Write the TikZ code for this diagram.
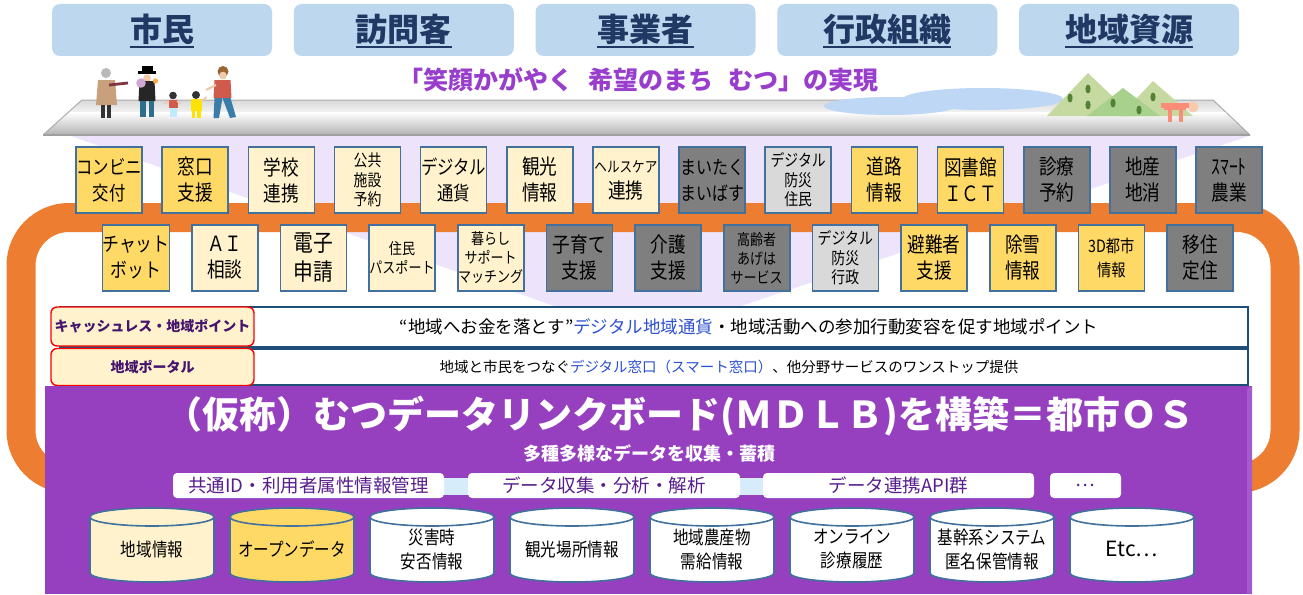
\documentclass[tikz,border=0pt]{standalone}
\usepackage{fontspec}
\setmainfont{Noto Sans CJK JP}
\newfontfamily\jpn[FakeStretch=0.84]{Noto Sans CJK JP}
\newfontfamily\jpw{Noto Sans CJK JP}

\definecolor{hdrfill}{RGB}{189,215,238}
\definecolor{hdrtext}{RGB}{32,56,100}
\definecolor{slogan}{RGB}{153,62,204}
\definecolor{lav}{RGB}{237,228,252}
\definecolor{orng}{RGB}{237,125,49}
\definecolor{boxline}{RGB}{65,113,156}
\definecolor{yelw}{RGB}{255,217,102}
\definecolor{crem}{RGB}{255,242,204}
\definecolor{dgry}{RGB}{127,127,127}
\definecolor{lgry}{RGB}{217,217,217}
\definecolor{barline}{RGB}{31,78,121}
\definecolor{lblred}{RGB}{255,0,0}
\definecolor{lbltext}{RGB}{68,20,110}
\definecolor{linkblue}{RGB}{45,80,210}
\definecolor{mdlb}{RGB}{150,64,192}
\definecolor{mdlbedge}{RGB}{165,90,205}
\definecolor{layertext}{RGB}{88,30,140}
\definecolor{glow}{RGB}{214,236,250}
\definecolor{water}{RGB}{189,215,245}
\definecolor{mtlight}{RGB}{197,217,160}
\definecolor{mtmid}{RGB}{169,209,142}
\definecolor{mtspot}{RGB}{84,130,53}
\definecolor{torii}{RGB}{250,140,120}
\definecolor{sun}{RGB}{248,203,173}
\definecolor{skin}{RGB}{240,200,170}
\definecolor{coat}{RGB}{200,160,124}
\definecolor{burg}{RGB}{128,52,70}
\definecolor{teal}{RGB}{46,110,138}
\definecolor{shirt}{RGB}{208,90,76}
\definecolor{jeans}{RGB}{58,125,168}

\tikzset{
  hdrbox/.style={fill=hdrfill, rounded corners=8pt, minimum width=220pt, minimum height=52pt, inner sep=0pt},
  hdrtxt/.style={text=hdrtext, inner sep=0pt, font=\jpw\bfseries\fontsize{32}{36}\selectfont},
  hdrul/.style={draw=hdrtext, line width=2.2pt},
  svc/.style={draw=boxline, line width=1.6pt, minimum width=66pt, minimum height=66pt, inner sep=0pt,
    align=center, text=black, font=\jpn\fontsize{21}{26}\selectfont},
  fY/.style={svc, fill=yelw},
  fC/.style={svc, fill=crem},
  fG/.style={svc, fill=dgry},
  fL/.style={svc, fill=lgry},
  small/.style={font=\jpn\fontsize{16.5}{19.5}\selectfont},
  tiny/.style={font=\jpn\fontsize{15.5}{19}\selectfont},
  bar/.style={draw=barline, line width=1.6pt, fill=white, inner sep=0pt},
  lbl/.style={draw=lblred, line width=1.4pt, fill=crem, rounded corners=6pt, minimum width=203pt,
    inner sep=0pt, text=lbltext, font=\jpw\bfseries\fontsize{14}{16}\selectfont},
  layer/.style={fill=white, rounded corners=4pt, minimum height=25pt, inner sep=0pt,
    text=layertext, font=\jpw\fontsize{18.5}{20}\selectfont},
  cylline/.style={draw=boxline, line width=1.6pt},
  cyltxt/.style={align=center, inner sep=0pt, font=\jpn\fontsize{18.5}{24}\selectfont},
}

% database drum: #1 centre x, #2 fill colour
\newcommand{\drum}[2]{%
  \fill[#2] (#1-62,517) rectangle (#1+62,573);
  \draw[cylline, fill=#2] (#1,573) ellipse [x radius=62pt, y radius=9pt];
  \fill[#2] (#1-61,517) rectangle (#1+61,573);
  \draw[cylline] (#1-62,517) -- (#1-62,573) (#1+62,517) -- (#1+62,573);
  \draw[cylline, fill=#2] (#1,517) ellipse [x radius=62pt, y radius=9pt];
}

\begin{document}
\begin{tikzpicture}[x=1pt, y=-1pt]
\useasboundingbox (0,0) rectangle (1303,594);
\fill[white] (0,0) rectangle (1303,594);

% light cone under the platform
\fill[lav] (68,135) -- (1252,135) -- (735,308) -- (560,308) -- cycle;

% orange loop
\draw[orng, line width=29pt, rounded corners=48pt] (21,217.5) rectangle (1285,478.5);

% stakeholder headers
\foreach \i/\t in {0/市民, 1/訪問客, 2/事業者, 3/行政組織, 4/地域資源} {
  \node[hdrbox] (hb\i) at (162+241.75*\i, 30) {};
  \node[hdrtxt] (ht\i) at (162+241.75*\i, 29) {\t};
  \draw[hdrul] ([yshift=-6pt]ht\i.base west) -- ([yshift=-6pt]ht\i.base east);
}

% slogan
\node[text=slogan, font=\jpw\bfseries\fontsize{25}{28}\selectfont, inner sep=0pt] (slogan) at (638,80)
  {「笑顔かがやく\hspace{0.6em}希望のまち\hspace{0.6em}むつ」の実現};

% platform slab
\shade[top color=gray!30, bottom color=gray!10] (82,100) -- (1213,100) -- (1226,112) -- (70,112) -- cycle;
\shade[top color=white, bottom color=gray!60] (70,112) -- (1226,112) -- (1250,135) -- (43,135) -- cycle;
\draw[gray!65, line width=1pt] (43,135) -- (82,100) -- (1213,100) -- (1250,135);
\draw[gray!75, line width=1.2pt] (43,135) -- (1250,135);
\draw[white, line width=1.2pt] (70,113) -- (1226,113);

% water
\fill[water] (890,106) ellipse [x radius=66pt, y radius=9pt];
\fill[water] (983,99) ellipse [x radius=80pt, y radius=11pt];

% hills
\fill[mtlight] (1047,116) -- (1088,73) -- (1133,116) -- cycle;
\fill[mtlight] (1120,116) -- (1153,81) -- (1193,116) -- cycle;
\fill[mtmid] (1087,116) -- (1123,88) -- (1160,116) -- cycle;
\foreach \p in {(1088,89), (1070,98), (1088,105), (1113,103), (1139,110), (1153,97)}
  \fill[mtspot] \p ellipse [x radius=2.6pt, y radius=4.5pt];

% shrine gate and sun
\fill[sun] (1193,107) circle (5.5pt);
\fill[torii] (1161,103) rectangle (1189,108);
\fill[torii] (1164,108) rectangle (1186,110);
\fill[torii] (1168,110) rectangle (1172,122);
\fill[torii] (1179,110) rectangle (1183,122);

% residents
\fill[gray!55] (106,73) circle (5pt);
\fill[coat] (98,80) -- (115,80) -- (117,105) -- (96,105) -- cycle;
\draw[burg, line width=2.8pt] (109,85) -- (128,83);
\fill[black!80] (100.5,105) rectangle (104.5,118);
\fill[black!80] (107,105) rectangle (111,118);

\fill[black] (138,71) rectangle (156,74);
\fill[black] (141.5,66) rectangle (152.5,71);
\fill[skin] (147,78) circle (3.8pt);
\fill[black!85] (139.5,81) -- (154.5,81) -- (155.5,101) -- (138.5,101) -- cycle;
\fill[violet!35] (141,83) circle (4.8pt);
\fill[orange!70] (155.5,81) circle (2.6pt);
\fill[teal] (140,101) rectangle (145.5,117);
\fill[teal] (148.5,101) rectangle (154,117);

\fill[black!80] (173,95.5) circle (3.8pt);
\fill[shirt] (168.5,100) rectangle (177.5,108);
\fill[cyan!25] (169.5,108) rectangle (176.5,117);
\draw[skin, line width=1.6pt] (169,101) -- (164,104) (177,101) -- (181,104);

\fill[black!80] (196,95) circle (4pt);
\fill[yellow!85!orange] (190.5,99) rectangle (201.5,111);
\fill[yellow!85!orange] (191.5,111) rectangle (195,117.5);
\fill[yellow!85!orange] (197,111) rectangle (200.5,117.5);
\draw[skin, line width=1.6pt] (201,101) -- (207,97);

\fill[brown!80!black] (223,71.5) circle (5.5pt);
\fill[skin] (223,75.5) circle (3.8pt);
\fill[shirt] (214.5,80) -- (230.5,80) -- (231.5,98) -- (213.5,98) -- cycle;
\draw[skin, line width=2.2pt] (216,85) -- (206,90);
\fill[jeans] (214.5,98) -- (222.5,98) -- (219,118) -- (213.5,118) -- cycle;
\fill[jeans] (222.5,98) -- (230.5,98) -- (236,117) -- (230,118) -- cycle;

% services, upper row
\node[fY, font=\jpn\fontsize{19.5}{26}\selectfont] (u0) at (109.0,180) {コンビニ\\交付};
\node[fY] (u1) at (195.2,180) {窓口\\支援};
\node[fC] (u2) at (281.3,180) {学校\\連携};
\node[fC, small] (u3) at (367.5,180) {公共\\施設\\予約};
\node[fC, font=\jpn\fontsize{19.5}{26}\selectfont] (u4) at (453.6,180) {デジタル\\通貨};
\node[fC] (u5) at (539.8,180) {観光\\情報};
\node[fC] (u6) at (625.9,180) {{\fontsize{15}{17}\selectfont ヘルスケア}\\連携};
\node[fG, font=\jpn\fontsize{19}{26}\selectfont] (u7) at (712.1,180) {まいたく\\まいばす};
\node[fL, small] (u8) at (798.2,180) {デジタル\\防災\\住民};
\node[fY] (u9) at (884.4,180) {道路\\情報};
\node[fY] (u10) at (970.5,180) {図書館\\ＩＣＴ};
\node[fG] (u11) at (1056.7,180) {診療\\予約};
\node[fG] (u12) at (1142.8,180) {地産\\地消};
\node[fG] (u13) at (1229.0,180) {ｽﾏｰﾄ\\農業};

% services, lower row
\node[fY, font=\jpn\fontsize{20}{26}\selectfont] (w0) at (136.0,258) {チャット\\ボット};
\node[fC] (w1) at (224.7,258) {ＡＩ\\相談};
\node[fC, font=\jpn\fontsize{23.5}{29}\selectfont] (w2) at (313.3,258) {電子\\申請};
\node[fC, tiny] (w3) at (402.0,258) {住民\\パスポート};
\node[fC, tiny] (w4) at (490.7,258) {暮らし\\サポート\\マッチング};
\node[fG] (w5) at (579.3,258) {子育て\\支援};
\node[fG] (w6) at (668.0,258) {介護\\支援};
\node[fG, tiny] (w7) at (756.7,258) {高齢者\\あげは\\サービス};
\node[fL, small] (w8) at (845.3,258) {デジタル\\防災\\行政};
\node[fY] (w9) at (934.0,258) {避難者\\支援};
\node[fY] (w10) at (1022.7,258) {除雪\\情報};
\node[fY, font=\jpn\fontsize{17}{24}\selectfont] (w11) at (1111.3,258) {3D都市\\情報};
\node[fG] (w12) at (1200.0,258) {移住\\定住};

% cashless / portal bars
\node[bar, minimum width=1188pt, minimum height=40pt] (bar1) at (654,327) {};
\node[bar, minimum width=1188pt, minimum height=36pt] (bar2) at (654,367) {};
\node[lbl, minimum height=39pt] (lab1) at (152.5,326.5) {キャッシュレス・地域ポイント};
\node[lbl, minimum height=37pt] (lab2) at (152.5,367) {地域ポータル};
\node[inner sep=0pt, font=\jpw\fontsize{17.5}{20}\selectfont] (txt1) at (749,327)
  {“地域へお金を落とす”\textcolor{linkblue}{デジタル地域通貨}・地域活動への参加行動変容を促す地域ポイント};
\node[inner sep=0pt, font=\jpw\fontsize{14.5}{17}\selectfont] (txt2) at (729,367)
  {地域と市民をつなぐ\textcolor{linkblue}{デジタル窓口（スマート窓口）}、他分野サービスのワンストップ提供};

% city OS panel
\node[fill=mdlb, minimum width=1207pt, minimum height=208pt, inner sep=0pt] (panel) at (648.5,490) {};
\fill[mdlbedge] (1247,389) -- (1252,386) -- (1252,594) -- (1247,594) -- cycle;
\node[text=white, inner sep=0pt, font=\jpw\bfseries\fontsize{37}{40}\selectfont] (title) at (680,416)
  {（仮称）むつデータリンクボード(ＭＤＬＢ)を構築＝都市ＯＳ};
\node[text=white, inner sep=0pt, font=\jpw\bfseries\fontsize{18}{20}\selectfont] (sub) at (649,453)
  {多種多様なデータを収集・蓄積};

% platform layers
\fill[glow] (440,478) rectangle (770,495);
\node[layer, minimum width=271pt] (ly1) at (308.5,485.5) {共通ID・利用者属性情報管理};
\node[layer, minimum width=272pt] (ly2) at (604,485.5) {データ収集・分析・解析};
\node[layer, minimum width=271pt] (ly3) at (898.5,485.5) {データ連携API群};
\node[layer, minimum width=71pt] (ly4) at (1085.5,485.5) {…};

% data stores
\drum{152}{crem}
\drum{292}{yelw}
\drum{432}{white}
\drum{572}{white}
\drum{712}{white}
\drum{852}{white}
\drum{992}{white}
\drum{1132}{white}
\node[cyltxt] (d1) at (152,549) {地域情報};
\node[cyltxt] (d2) at (292,549) {オープンデータ};
\node[cyltxt] (d3) at (432,549) {災害時\\安否情報};
\node[cyltxt] (d4) at (572,549) {観光場所情報};
\node[cyltxt] (d5) at (712,549) {地域農産物\\需給情報};
\node[cyltxt] (d6) at (852,549) {オンライン\\診療履歴};
\node[cyltxt] (d7) at (992,549) {基幹系システム\\匿名保管情報};
\node[cyltxt, font=\jpw\fontsize{21}{24}\selectfont] (d8) at (1132,549) {Etc…};
\end{tikzpicture}
\end{document}
